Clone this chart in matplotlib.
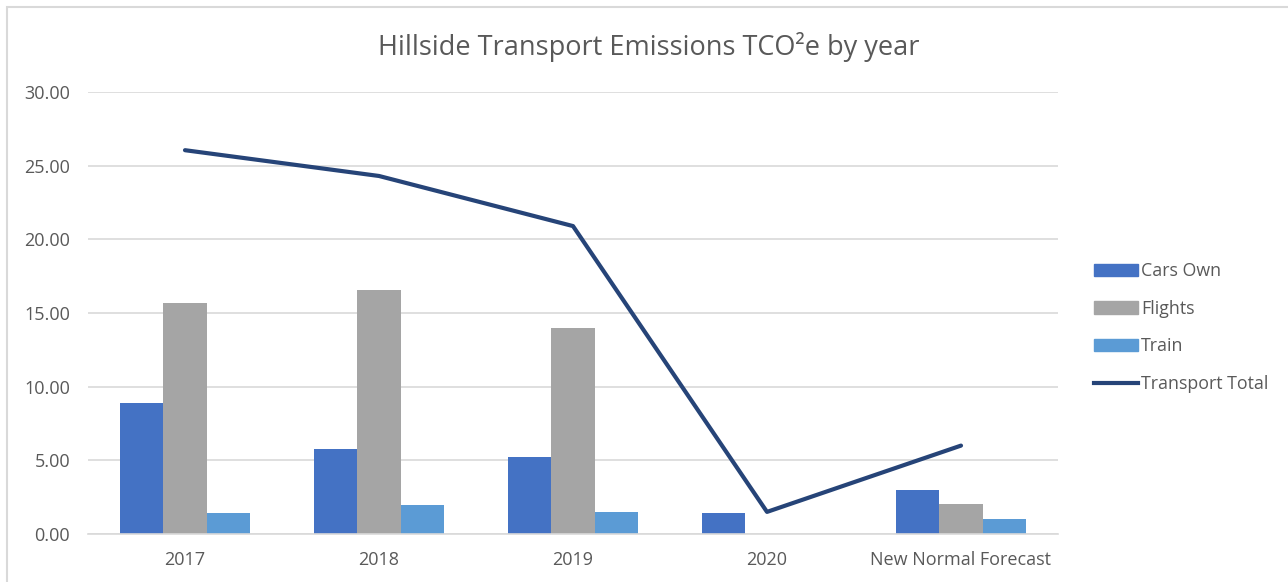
import matplotlib
matplotlib.use("Agg")
import matplotlib.pyplot as plt
from matplotlib.lines import Line2D
from matplotlib.patches import Patch, Rectangle
import numpy as np

categories = ["2017", "2018", "2019", "2020", "New Normal Forecast"]
cars_own = [8.90, 5.80, 5.25, 1.45, 3.00]
flights = [15.70, 16.55, 14.00, 0.0, 2.03]
train = [1.45, 1.95, 1.50, 0.0, 1.00]
transport_total = [26.05, 24.30, 20.90, 1.50, 6.00]
yticks = [0, 5, 10, 15, 20, 25, 30]

plt.rcParams['font.family'] = ['Open Sans', 'DejaVu Sans']
TXT = '#595959'

fig = plt.figure(figsize=(12.88, 5.82), dpi=100)
fig.patches.append(Rectangle((7/1288, -0.1), 1.2, 1 - 7/582 + 0.1, transform=fig.transFigure,
                             fill=False, edgecolor='#D9D9D9', linewidth=1.5))
ax = fig.add_axes([88/1288, 1 - 534/582, 970/1288, 442/582])

x = np.arange(len(categories))
w = 0.225
ax.bar(x - w, cars_own, w, color='#4472C4', label='Cars Own', zorder=2)
ax.bar(x, flights, w, color='#A5A5A5', label='Flights', zorder=2)
ax.bar(x + w, train, w, color='#5B9BD5', label='Train', zorder=2)
ax.plot(x, transport_total, color='#264478', linewidth=3, solid_capstyle='round', zorder=3,
        label='Transport Total')

ax.set_xlim(-0.5, len(categories) - 0.5)
ax.set_ylim(0, 30)
ax.set_yticks(yticks)
ax.set_yticklabels([f"{v:.2f}" for v in yticks])
ax.set_xticks(x)
ax.set_xticklabels(categories)
ax.grid(axis='y', color='#D9D9D9', linewidth=1.2, zorder=0)
for s in ['top', 'right', 'left']:
    ax.spines[s].set_visible(False)
ax.spines['bottom'].set_color('#D9D9D9')
ax.spines['bottom'].set_linewidth(1.2)
ax.tick_params(axis='both', length=0, colors=TXT, labelsize=13)
ax.tick_params(axis='y', pad=13)
ax.tick_params(axis='x', pad=12)

fig.text(649/1288, 1 - 47/582, "Hillside Transport Emissions TCO²e by year", ha='center', va='center',
         fontsize=19.5, color=TXT)

handles = [Patch(color='#4472C4'), Patch(color='#A5A5A5'), Patch(color='#5B9BD5'),
           Line2D([0], [0], color='#264478', linewidth=3)]
labels = ['Cars Own', 'Flights', 'Train', 'Transport Total']
leg = fig.legend(handles, labels, loc='upper left', bbox_to_anchor=(1078/1288, 1 - 246/582),
                 frameon=False, fontsize=12.8, labelcolor=TXT, handlelength=2.5, handleheight=0.7,
                 handletextpad=0.15, labelspacing=1.11)

fig.savefig("out.png", dpi=100)
